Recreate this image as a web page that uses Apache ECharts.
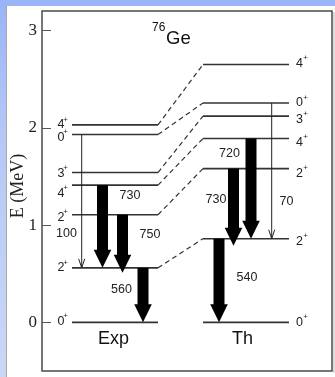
<!DOCTYPE html>
<html><head><meta charset="utf-8">
<script src="https://cdn.jsdelivr.net/npm/echarts@6/dist/echarts.min.js"></script>
<style>html,body{margin:0;padding:0;background:#fff}#c{width:335px;height:377px}</style>
</head><body><div id="c"></div>
<script>
// ---------------- data ----------------
const columns     = ['Exp', 'Th'];
const expEnergies = [0, 0.56, 1.106, 1.41, 1.54, 1.93, 2.03];   // MeV
const expSpins    = ['0', '2', '2', '4', '3', '0', '4'];          // parity +
const thEnergies  = [0, 0.86, 1.58, 1.89, 2.12, 2.255, 2.65];
const thSpins     = ['0', '2', '2', '4', '3', '0', '4'];
const expTrFrom   = [1.93, 1.41, 1.106, 0.56];
const expTrTo     = [0.56, 0.56, 0.56, 0];
const expTrLabel  = ['100', '730', '750', '560'];
const expTrThick  = [false, true, true, true];
const thTrFrom    = [2.255, 1.89, 1.58, 0.86];
const thTrTo      = [0.86, 0.86, 0.86, 0];
const thTrLabel   = ['70', '720', '730', '540'];
const thTrThick   = [false, true, true, true];
const yTicks      = [0, 1, 2, 3];

// ---------------- layout (x in plot units = px from frame) ----------------
const colRange   = [[30, 116], [161, 247]];
const colNameX   = [71.5, 200.5];
const expSpinDy  = [-1, 0, 3, 8, 1, 3, 0];
const thSpinDy   = [0, 3, 5, 4, 3, 0, -1];
const expTrX     = [39.7, 60.5, 80.5, 101];
const thTrX      = [229.7, 209, 191.5, 177];
const expTrOver  = [0, 0, 5, 0];
const thTrOver   = [0, 0, 7, 0];
const expLblPos  = [[24.5, 0.909], [88, 1.30], [108, 0.903], [79.5, 0.333]];
const thLblPos   = [[244.5, 1.243], [187.5, 1.731], [174, 1.263], [205, 0.461]];

const FONT = 'Liberation Sans, Arial, Helvetica, sans-serif';
const SERIF = 'Liberation Serif, Times New Roman, serif';

const levels = [];
expEnergies.forEach((e, i) => levels.push({col: 0, e, spin: expSpins[i], dy: expSpinDy[i]}));
thEnergies.forEach((e, i) => levels.push({col: 1, e, spin: thSpins[i], dy: thSpinDy[i]}));

const links = [];
for (let i = 1; i < expEnergies.length; i++) links.push([expEnergies[i], thEnergies[i]]);

const trans = [];
expTrFrom.forEach((f, i) => trans.push({x: expTrX[i], from: f, to: expTrTo[i], label: expTrLabel[i], thick: expTrThick[i], over: expTrOver[i], lp: expLblPos[i]}));
thTrFrom.forEach((f, i) => trans.push({x: thTrX[i], from: f, to: thTrTo[i], label: thTrLabel[i], thick: thTrThick[i], over: thTrOver[i], lp: thLblPos[i]}));

const chart = echarts.init(document.getElementById('c'), null, {renderer: 'canvas'});
chart.setOption({
  backgroundColor: '#fff',
  animation: false,
  graphic: [
    {type: 'rect', z: -10, shape: {x: 0, y: 0, width: 335, height: 6}, style: {fill: '#9ab4f8'}},
    {type: 'rect', z: -10, shape: {x: 0, y: 0, width: 6, height: 377},
      style: {fill: new echarts.graphic.LinearGradient(0, 0, 0, 1, [{offset: 0, color: '#9ab4f8'}, {offset: 0.35, color: '#b4c7f6'}, {offset: 1, color: '#cad8f6'}])}},
    {type: 'line', z: -9, shape: {x1: 6.5, y1: 6, x2: 6.5, y2: 377}, style: {stroke: '#a8a8a8', lineWidth: 1}},
    {type: 'line', z: -9, shape: {x1: 334, y1: 12, x2: 334, y2: 373}, style: {stroke: '#c4c4c4', lineWidth: 1.2}},
    {type: 'text', x: 152, y: 22, z: 10,
      style: {text: '76', fontSize: 12, fontFamily: FONT, fill: '#111'}},
    {type: 'text', x: 166, y: 29, z: 10,
      style: {text: 'Ge', fontSize: 18.5, fontFamily: FONT, fill: '#111'}},
    {type: 'text', x: 18, y: 186, rotation: Math.PI / 2, z: 10,
      style: {text: 'E (MeV)', fontSize: 18, fontFamily: SERIF, fill: '#222', align: 'center', verticalAlign: 'middle'}}
  ],
  grid: {left: 42, top: 11, right: 3, bottom: 6, outerBoundsMode: 'none', containLabel: false,
    show: true, backgroundColor: '#fff', borderColor: '#4a4a4a', borderWidth: 1.5},
  xAxis: {type: 'value', min: 0, max: 290, show: false},
  yAxis: {
    type: 'value', min: -0.5, max: 3.2,
    axisLine: {show: false},
    splitLine: {show: false},
    axisTick: {show: true, inside: true, length: 9, customValues: yTicks, lineStyle: {color: '#555', width: 1}},
    axisLabel: {customValues: yTicks, fontFamily: SERIF, fontSize: 17, color: '#222', margin: 5}
  },
  series: [
    {
      type: 'custom', name: 'links', z: 2,
      data: links,
      renderItem(params, api) {
        const a = api.coord([colRange[0][1], api.value(0)]);
        const b = api.coord([colRange[1][0], api.value(1)]);
        return {type: 'line', shape: {x1: a[0], y1: a[1], x2: b[0], y2: b[1]},
          style: {stroke: '#333', lineWidth: 1.2, lineDash: [5, 3.5]}};
      }
    },
    {
      type: 'custom', name: 'levels', z: 3,
      data: levels.map(l => [colRange[l.col][0], l.e]),
      renderItem(params, api) {
        const l = levels[params.dataIndex];
        const r = colRange[l.col];
        const a = api.coord([r[0], l.e]), b = api.coord([r[1], l.e]);
        const y = a[1] + l.dy;
        let dx, px;
        if (l.col === 0) { px = a[0] - 4; dx = px - 3.5; }
        else { dx = b[0] + 7; px = dx + 7.3; }
        return {type: 'group', children: [
          {type: 'line', shape: {x1: a[0], y1: a[1], x2: b[0], y2: b[1]}, style: {stroke: '#333', lineWidth: 1.6}},
          {type: 'text', x: dx, y: y, style: {text: l.spin, align: l.col === 0 ? 'right' : 'left', verticalAlign: 'middle',
            fontSize: 12.5, fontFamily: FONT, fill: '#222'}},
          {type: 'text', x: px, y: y - 5.5, style: {text: '+', align: l.col === 0 ? 'right' : 'left', verticalAlign: 'middle',
            fontSize: 8, fontFamily: FONT, fill: '#222'}}
        ]};
      }
    },
    {
      type: 'custom', name: 'transitions', z: 4,
      data: trans.map(t => [t.x, t.from, t.to]),
      renderItem(params, api) {
        const t = trans[params.dataIndex];
        const top = api.coord([t.x, t.from]), tip = api.coord([t.x, t.to]);
        const x = top[0], ty = tip[1] + t.over;
        const ch = [];
        if (t.thick) {
          const hl = 18, hw = 8.8, sw = 5.5;
          ch.push({type: 'rect', shape: {x: x - sw, y: top[1], width: 2 * sw, height: ty - hl - top[1] + 1}, style: {fill: '#000'}});
          ch.push({type: 'polygon', shape: {points: [[x - hw, ty - hl], [x + hw, ty - hl], [x, ty]]}, style: {fill: '#000'}});
        } else {
          ch.push({type: 'line', shape: {x1: x, y1: top[1], x2: x, y2: ty}, style: {stroke: '#222', lineWidth: 1}});
          ch.push({type: 'polyline', shape: {points: [[x - 3, ty - 9], [x, ty], [x + 3, ty - 9]]}, style: {stroke: '#222', lineWidth: 1, fill: null}});
        }
        const lp = api.coord(t.lp);
        ch.push({type: 'text', x: lp[0], y: lp[1], style: {text: t.label, align: 'center', verticalAlign: 'middle',
          fontSize: 12.5, fontFamily: FONT, fill: '#222'}});
        return {type: 'group', children: ch};
      }
    },
    {
      type: 'custom', name: 'columns', z: 3,
      data: columns.map((c, i) => [colNameX[i], -0.17]),
      renderItem(params, api) {
        const p = api.coord([api.value(0), api.value(1)]);
        return {type: 'text', x: p[0], y: p[1], style: {text: columns[params.dataIndex], align: 'center', verticalAlign: 'middle',
          fontSize: 18, fontFamily: FONT, fill: '#111'}};
      }
    }
  ]
});
</script></body></html>
